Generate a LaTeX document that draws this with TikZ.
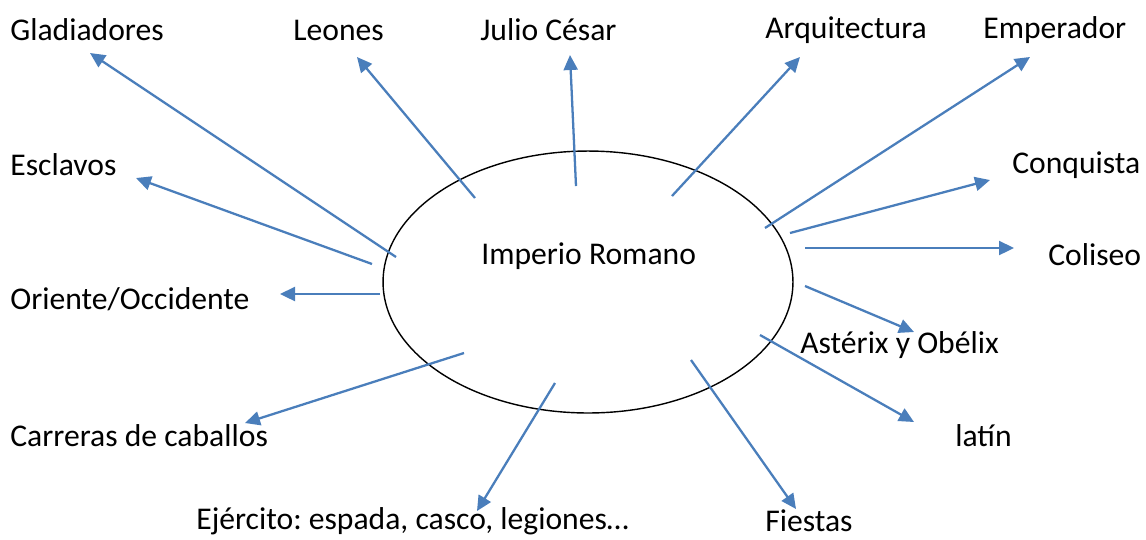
\documentclass[tikz,border=0pt]{standalone}
\usepackage{fontspec}
\setmainfont{Carlito}
\usepackage{tikz}
\usetikzlibrary{arrows.meta}
\usetikzlibrary{shapes.geometric}
\definecolor{azul}{HTML}{4A7EBB}
\frenchspacing
\tikzset{
  flecha/.style={draw=azul,line width=1.3pt,-{Triangle[length=0.3cm,width=0.28cm]}},
  palabra/.style={anchor=west,inner sep=0pt,font=\fontsize{18}{22}\selectfont}
}

\begin{document}
\begin{tikzpicture}[x=0.02cm,y=-0.02cm]
            \useasboundingbox (0,0) rectangle (1146,539);

            % elipse central
            \node[draw,ellipse,line width=0.8pt,minimum width=8.2cm,minimum height=5.24cm] (imperio) at (588,282) {};
            \node[palabra] (titulo) at (481,256) {Imperio Romano};

            % palabras alrededor
            \node[palabra] (gla) at (10,30) {Gladiadores};
            \node[palabra] (leo) at (293,30) {Leones};
            \node[palabra] (jul) at (480,30) {Julio César};
            \node[palabra] (arq) at (765,30) {Arquitectura};
            \node[palabra] (emp) at (983,30) {Emperador};
            \node[palabra] (esc) at (10,165) {Esclavos};
            \node[palabra] (con) at (1012,165) {Conquista};
            \node[palabra] (col) at (1048,255) {Coliseo};
            \node[palabra] (ori) at (10,299) {Oriente/Occidente};
            \node[palabra] (ast) at (800,345) {Astérix y Obélix};
            \node[palabra] (car) at (10,436) {Carreras de caballos};
            \node[palabra] (lat) at (955,436) {latín};
            \node[palabra] (eje) at (196,521) {Ejército: espada, casco, legiones…};
            \node[palabra] (fie) at (765,521) {Fiestas};

            % extremos de las flechas
            \coordinate (gla0) at (396,257);  \coordinate (gla1) at (90,53);
            \coordinate (leo0) at (475,198);  \coordinate (leo1) at (357,57);
            \coordinate (jul0) at (576,186);  \coordinate (jul1) at (570,55);
            \coordinate (arq0) at (672,196);  \coordinate (arq1) at (800,57);
            \coordinate (emp0) at (765,228);  \coordinate (emp1) at (1030,57);
            \coordinate (esc0) at (372,264);  \coordinate (esc1) at (136,178);
            \coordinate (con0) at (790,233);  \coordinate (con1) at (990,180);
            \coordinate (col0) at (805,248);  \coordinate (col1) at (1014,248);
            \coordinate (ori0) at (380,294);  \coordinate (ori1) at (280,294);
            \coordinate (ast0) at (805,286);  \coordinate (ast1) at (914,332);
            \coordinate (car0) at (464,353);  \coordinate (car1) at (245,423);
            \coordinate (lat0) at (760,335);  \coordinate (lat1) at (914,422);
            \coordinate (eje0) at (555,383);  \coordinate (eje1) at (477,511);
            \coordinate (fie0) at (691,360);  \coordinate (fie1) at (796,509);

            % flechas
            \draw[flecha] (gla0)--(gla1);
            \draw[flecha] (leo0)--(leo1);
            \draw[flecha] (jul0)--(jul1);
            \draw[flecha] (arq0)--(arq1);
            \draw[flecha] (emp0)--(emp1);
            \draw[flecha] (esc0)--(esc1);
            \draw[flecha] (con0)--(con1);
            \draw[flecha] (col0)--(col1);
            \draw[flecha] (ori0)--(ori1);
            \draw[flecha] (ast0)--(ast1);
            \draw[flecha] (car0)--(car1);
            \draw[flecha] (lat0)--(lat1);
            \draw[flecha] (eje0)--(eje1);
            \draw[flecha] (fie0)--(fie1);

        \end{tikzpicture}
\end{document}
